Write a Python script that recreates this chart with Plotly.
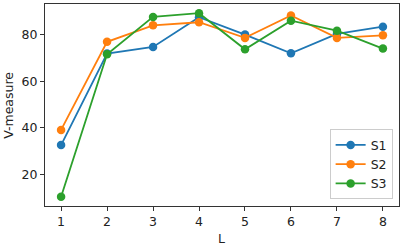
import plotly.graph_objects as go

L = [1, 2, 3, 4, 5, 6, 7, 8]
s1 = [32.6, 71.9, 74.7, 87.5, 80.0, 72.0, 80.3, 83.4]
s2 = [39.1, 76.9, 84.0, 85.3, 78.6, 88.2, 78.6, 79.7]
s3 = [10.4, 71.6, 87.6, 89.2, 73.7, 86.0, 81.7, 74.0]
names = ["S1", "S2", "S3"]
colors = ["#1f77b4", "#ff7f0e", "#2ca02c"]

fig = go.Figure()
for name, ys, c in zip(names, [s1, s2, s3], colors):
    fig.add_trace(go.Scatter(x=L, y=ys, name=name, mode="lines+markers",
                             line=dict(color=c, width=1.8),
                             marker=dict(color=c, size=8.5)))

axis_common = dict(showline=True, linecolor="#333", linewidth=1, mirror=True,
                   ticks="outside", ticklen=4, tickcolor="#333", showgrid=False,
                   zeroline=False, automargin=False,
                   tickfont=dict(size=12.5, color="#222"))
fig.update_layout(
    width=407, height=245,
    margin=dict(l=45, r=8, t=4, b=39),
    plot_bgcolor="white", paper_bgcolor="white",
    font=dict(family="DejaVu Sans", size=12.5, color="#222"),
    xaxis=dict(range=[0.65, 8.35], tickvals=L, **axis_common),
    yaxis=dict(range=[6.46, 93.14], tickvals=[20, 40, 60, 80], **axis_common),
    legend=dict(x=0.982, y=0.033, xanchor="right", yanchor="bottom",
                bordercolor="#ccc", borderwidth=1, bgcolor="white",
                font=dict(size=12.5), tracegroupgap=0),
    showlegend=True,
    annotations=[
        dict(text="L", xref="paper", yref="paper", x=0.499, y=-0.16,
             xanchor="center", yanchor="middle", showarrow=False,
             font=dict(size=12.5)),
        dict(text="V-measure", xref="paper", yref="paper", x=-0.105, y=0.5,
             xanchor="center", yanchor="middle", showarrow=False, textangle=-90,
             font=dict(size=12.5)),
    ],
)
fig.write_html("out.html", config={"displayModeBar": False},
               post_script="document.body.style.margin='0';document.body.style.overflow='hidden';")
